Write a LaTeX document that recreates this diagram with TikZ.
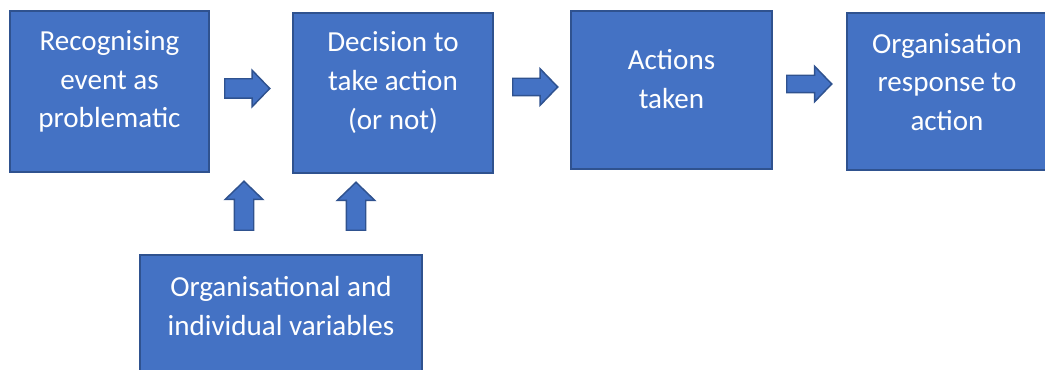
\documentclass[tikz,border=0pt]{standalone}
\usepackage{fontspec}
\setmainfont{Carlito}
\usetikzlibrary{shapes.arrows}
\definecolor{boxfill}{HTML}{4472C4}
\definecolor{boxline}{HTML}{2F528F}
\newdimen\pxu \pxu=0.75pt
\begin{document}
\begin{tikzpicture}[x=0.75pt,y=-0.75pt,
  stagebox/.style={draw=boxline, fill=boxfill, line width=1.5pt, inner sep=0pt},
  stagetext/.style={text=white, align=center, inner sep=0pt,
    font=\fontsize{21.8}{28.9}\selectfont},
  blockarrow/.style={single arrow, draw=boxline, fill=boxfill, line width=1.1pt,
    anchor=tail, single arrow tip angle=92},
]
\useasboundingbox (0,0) rectangle (1045,370);

% stage boxes
\node[stagebox, minimum width=199\pxu, minimum height=161\pxu] (b1) at (109.5,92) {};
\node[stagebox, minimum width=200\pxu, minimum height=160\pxu] (b2) at (393,93) {};
\node[stagebox, minimum width=201\pxu, minimum height=158\pxu] (b3) at (671.5,90) {};
\node[stagebox, minimum width=200\pxu, minimum height=157\pxu] (b4) at (947,91.5) {};
\node[stagebox, minimum width=282\pxu, minimum height=124\pxu] (b5) at (281,317) {};

% box captions
\node[stagetext] (t1) at (109.5,81.5) {Recognising\\event as\\problematic};
\node[stagetext] (t2) at (393,82.5) {Decision to\\take action\\(or not)};
\node[stagetext] (t3) at (671.5,79) {Actions\\taken};
\node[stagetext] (t4) at (947,82) {Organisation\\response to\\action};
\node[stagetext] (t5) at (281,306) {Organisational and\\individual variables};

% block arrows: shaft thickness = 2 x inner sep, head = shaft + 2 x head extend
\node[blockarrow, inner sep=9\pxu, minimum height=45\pxu,
      single arrow head extend=8.5\pxu] (a1) at (224,88.5) {};
\node[blockarrow, inner sep=8\pxu, minimum height=45\pxu,
      single arrow head extend=9.5\pxu] (a2) at (512,87) {};
\node[blockarrow, inner sep=8\pxu, minimum height=45\pxu,
      single arrow head extend=9\pxu] (a3) at (786,84) {};
\node[blockarrow, shape border rotate=90, inner sep=9\pxu, minimum height=49\pxu,
      single arrow head extend=9\pxu] (u1) at (244,231) {};
\node[blockarrow, shape border rotate=90, inner sep=9\pxu, minimum height=48\pxu,
      single arrow head extend=9\pxu] (u2) at (356,231) {};
\end{tikzpicture}
\end{document}
